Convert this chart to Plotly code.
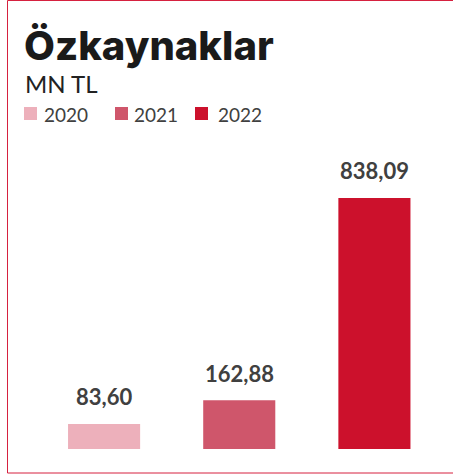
import plotly.graph_objects as go

W, H = 453, 476

years = ["2020", "2021", "2022"]
values = [83.60, 162.88, 838.09]
colors = ["#EDB0BB", "#CF566B", "#CC112C"]
title_text = "Özkaynaklar"
subtitle_text = "MN TL"

def px_x(x):
    return x / W

def px_y(y):
    return 1 - y / H

fig = go.Figure()
fig.add_trace(go.Bar(
    x=years, y=values, marker=dict(color=colors, line=dict(width=0)),
    showlegend=False, hoverinfo="skip",
))

annotations = []
for i, v in enumerate(values):
    annotations.append(dict(
        x=i, y=v, xref="x", yref="y", text=f"{v:.2f}".replace(".", ","),
        showarrow=False, xanchor="center", yanchor="middle", yshift=27,
        font=dict(family="Lato", size=22, color="#404040", weight=700),
    ))

annotations.append(dict(
    x=px_x(22), y=px_y(46), xref="paper", yref="paper", text=title_text,
    showarrow=False, xanchor="left", yanchor="middle",
    font=dict(family="Inter", size=40, color="#1a1a1a", weight=800),
))
annotations.append(dict(
    x=px_x(23), y=px_y(83), xref="paper", yref="paper", text=subtitle_text,
    showarrow=False, xanchor="left", yanchor="middle",
    font=dict(family="Lato", size=24, color="#222222"),
))

shapes = []
sq_x = [24, 115, 195]
txt_x = [42, 132, 216]
for yr, c, sx, tx in zip(years, colors, sq_x, txt_x):
    shapes.append(dict(
        type="rect", xref="paper", yref="paper",
        x0=px_x(sx), x1=px_x(sx + 13), y0=px_y(120), y1=px_y(107),
        fillcolor=c, line=dict(width=0),
    ))
    annotations.append(dict(
        x=px_x(tx), y=px_y(114), xref="paper", yref="paper", text=yr,
        showarrow=False, xanchor="left", yanchor="middle",
        font=dict(family="Lato", size=19, color="#404040"),
    ))

# frame
shapes.append(dict(
    type="rect", xref="paper", yref="paper",
    x0=px_x(7.5), x1=px_x(470), y0=px_y(473), y1=px_y(0.5),
    line=dict(color="#D6213F", width=1), fillcolor="rgba(0,0,0,0)",
))

fig.update_layout(
    width=W, height=H,
    margin=dict(l=0, r=0, t=0, b=0),
    paper_bgcolor="white", plot_bgcolor="white",
    bargap=1 - 72 / 135,
    xaxis=dict(domain=[36.5 / W, 442 / W], type="category", range=[-0.5, 2.5],
               showticklabels=False, showgrid=False, zeroline=False,
               showline=False, ticks=""),
    yaxis=dict(domain=[27 / H, 1], range=[0, 1499], showticklabels=False,
               showgrid=False, zeroline=False, showline=False, ticks=""),
    annotations=annotations, shapes=shapes,
)

fig.write_html(
    "out.html",
    config={"displayModeBar": False},
    post_script="document.body.style.margin='0';document.body.style.overflow='hidden';",
)
